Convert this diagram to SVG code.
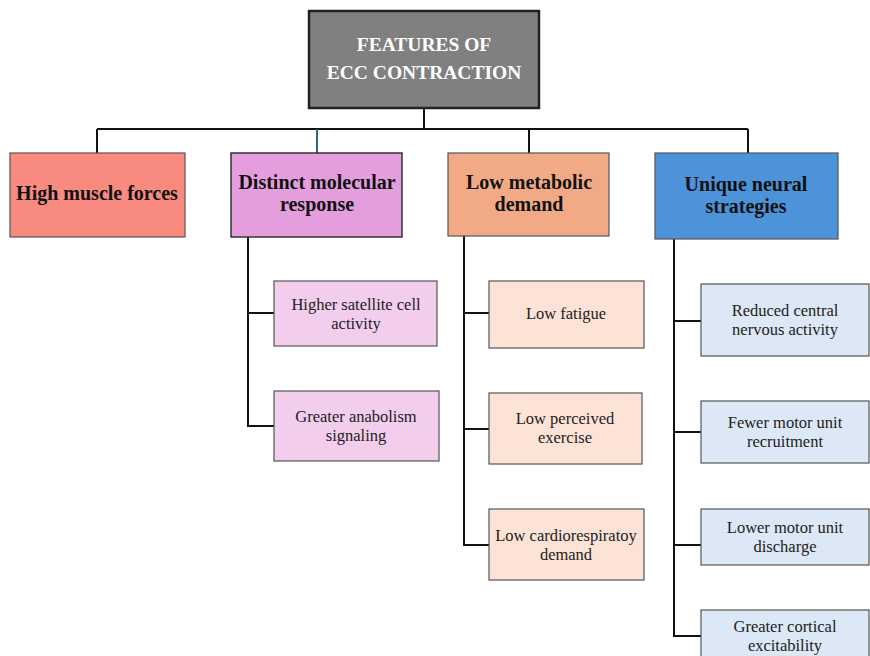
<svg xmlns="http://www.w3.org/2000/svg" width="870" height="656" viewBox="0 0 870 656">
<style>
.b{stroke:#333;stroke-width:1.5}
.c{stroke:#555;stroke-width:1.2}
.h{font-family:"Liberation Serif",serif;font-weight:bold;font-size:20px;fill:#111;text-anchor:middle}
.t{font-family:"Liberation Serif",serif;font-size:16.5px;fill:#222;text-anchor:middle}
.w{font-family:"Liberation Serif",serif;font-weight:bold;font-size:19.5px;fill:#fff;text-anchor:middle}
.l{stroke:#111;stroke-width:2;fill:none}
</style>
<rect width="870" height="656" fill="#fff"/>
<g id="connectors">
<path class="l" d="M424 108V129M97 129H748M97 129V153M529 129V153M748 129V153"/>
<path d="M317 129V153" stroke="#2a6a80" stroke-width="2"/>
<path class="l" d="M248 237V426H274M248 313H274"/>
<path class="l" d="M464 236V545H489M464 313H489M464 429H489"/>
<path class="l" d="M674 239V636H701M674 321H701M674 432H701M674 545H701"/>
</g>
<g id="root"><rect x="309" y="11" width="230" height="97" fill="#808080" stroke="#222" stroke-width="2.5"/>
<text class="w" x="424" y="51">FEATURES OF</text><text class="w" x="424" y="79">ECC CONTRACTION</text></g>
<g id="n1"><rect x="10" y="153" width="175" height="84" fill="#F98A80" class="c"/><text class="h" x="97" y="200">High muscle forces</text></g>
<g id="n2"><rect x="231" y="153" width="171" height="84" fill="#E49EDD" class="b"/><text class="h" x="317" y="189">Distinct molecular</text><text class="h" x="317" y="211">response</text></g>
<g id="n3"><rect x="448" y="153" width="161" height="83" fill="#F2AA86" class="c"/><text class="h" x="529" y="189">Low metabolic</text><text class="h" x="529" y="211">demand</text></g>
<g id="n4"><rect x="655" y="153" width="183" height="86" fill="#4C93DA" class="c"/><text class="h" x="746" y="191">Unique neural</text><text class="h" x="746" y="213">strategies</text></g>
<g id="n2a"><rect x="274" y="281" width="163" height="65" fill="#F2CDEC" class="c"/><text class="t" x="356" y="310">Higher satellite cell</text><text class="t" x="356" y="329">activity</text></g>
<g id="n2b"><rect x="274" y="391" width="165" height="70" fill="#F2CDEC" class="c"/><text class="t" x="356" y="422">Greater anabolism</text><text class="t" x="356" y="441">signaling</text></g>
<g id="n3a"><rect x="489" y="281" width="155" height="67" fill="#FCE3D6" class="c"/><text class="t" x="566" y="319">Low fatigue</text></g>
<g id="n3b"><rect x="489" y="393" width="153" height="71" fill="#FCE3D6" class="c"/><text class="t" x="565" y="424">Low perceived</text><text class="t" x="565" y="443">exercise</text></g>
<g id="n3c"><rect x="489" y="509" width="155" height="71" fill="#FCE3D6" class="c"/><text class="t" x="566" y="541">Low cardiorespiratoy</text><text class="t" x="566" y="560">demand</text></g>
<g id="n4a"><rect x="701" y="284" width="168" height="72" fill="#DCE8F5" class="c"/><text class="t" x="785" y="316">Reduced central</text><text class="t" x="785" y="335">nervous activity</text></g>
<g id="n4b"><rect x="701" y="401" width="168" height="62" fill="#DCE8F5" class="c"/><text class="t" x="785" y="428">Fewer motor unit</text><text class="t" x="785" y="447">recruitment</text></g>
<g id="n4c"><rect x="701" y="509" width="168" height="56" fill="#DCE8F5" class="c"/><text class="t" x="785" y="533">Lower motor unit</text><text class="t" x="785" y="552">discharge</text></g>
<g id="n4d"><rect x="701" y="610" width="168" height="50" fill="#DCE8F5" class="c"/><text class="t" x="785" y="632">Greater cortical</text><text class="t" x="785" y="651">excitability</text></g>
</svg>
